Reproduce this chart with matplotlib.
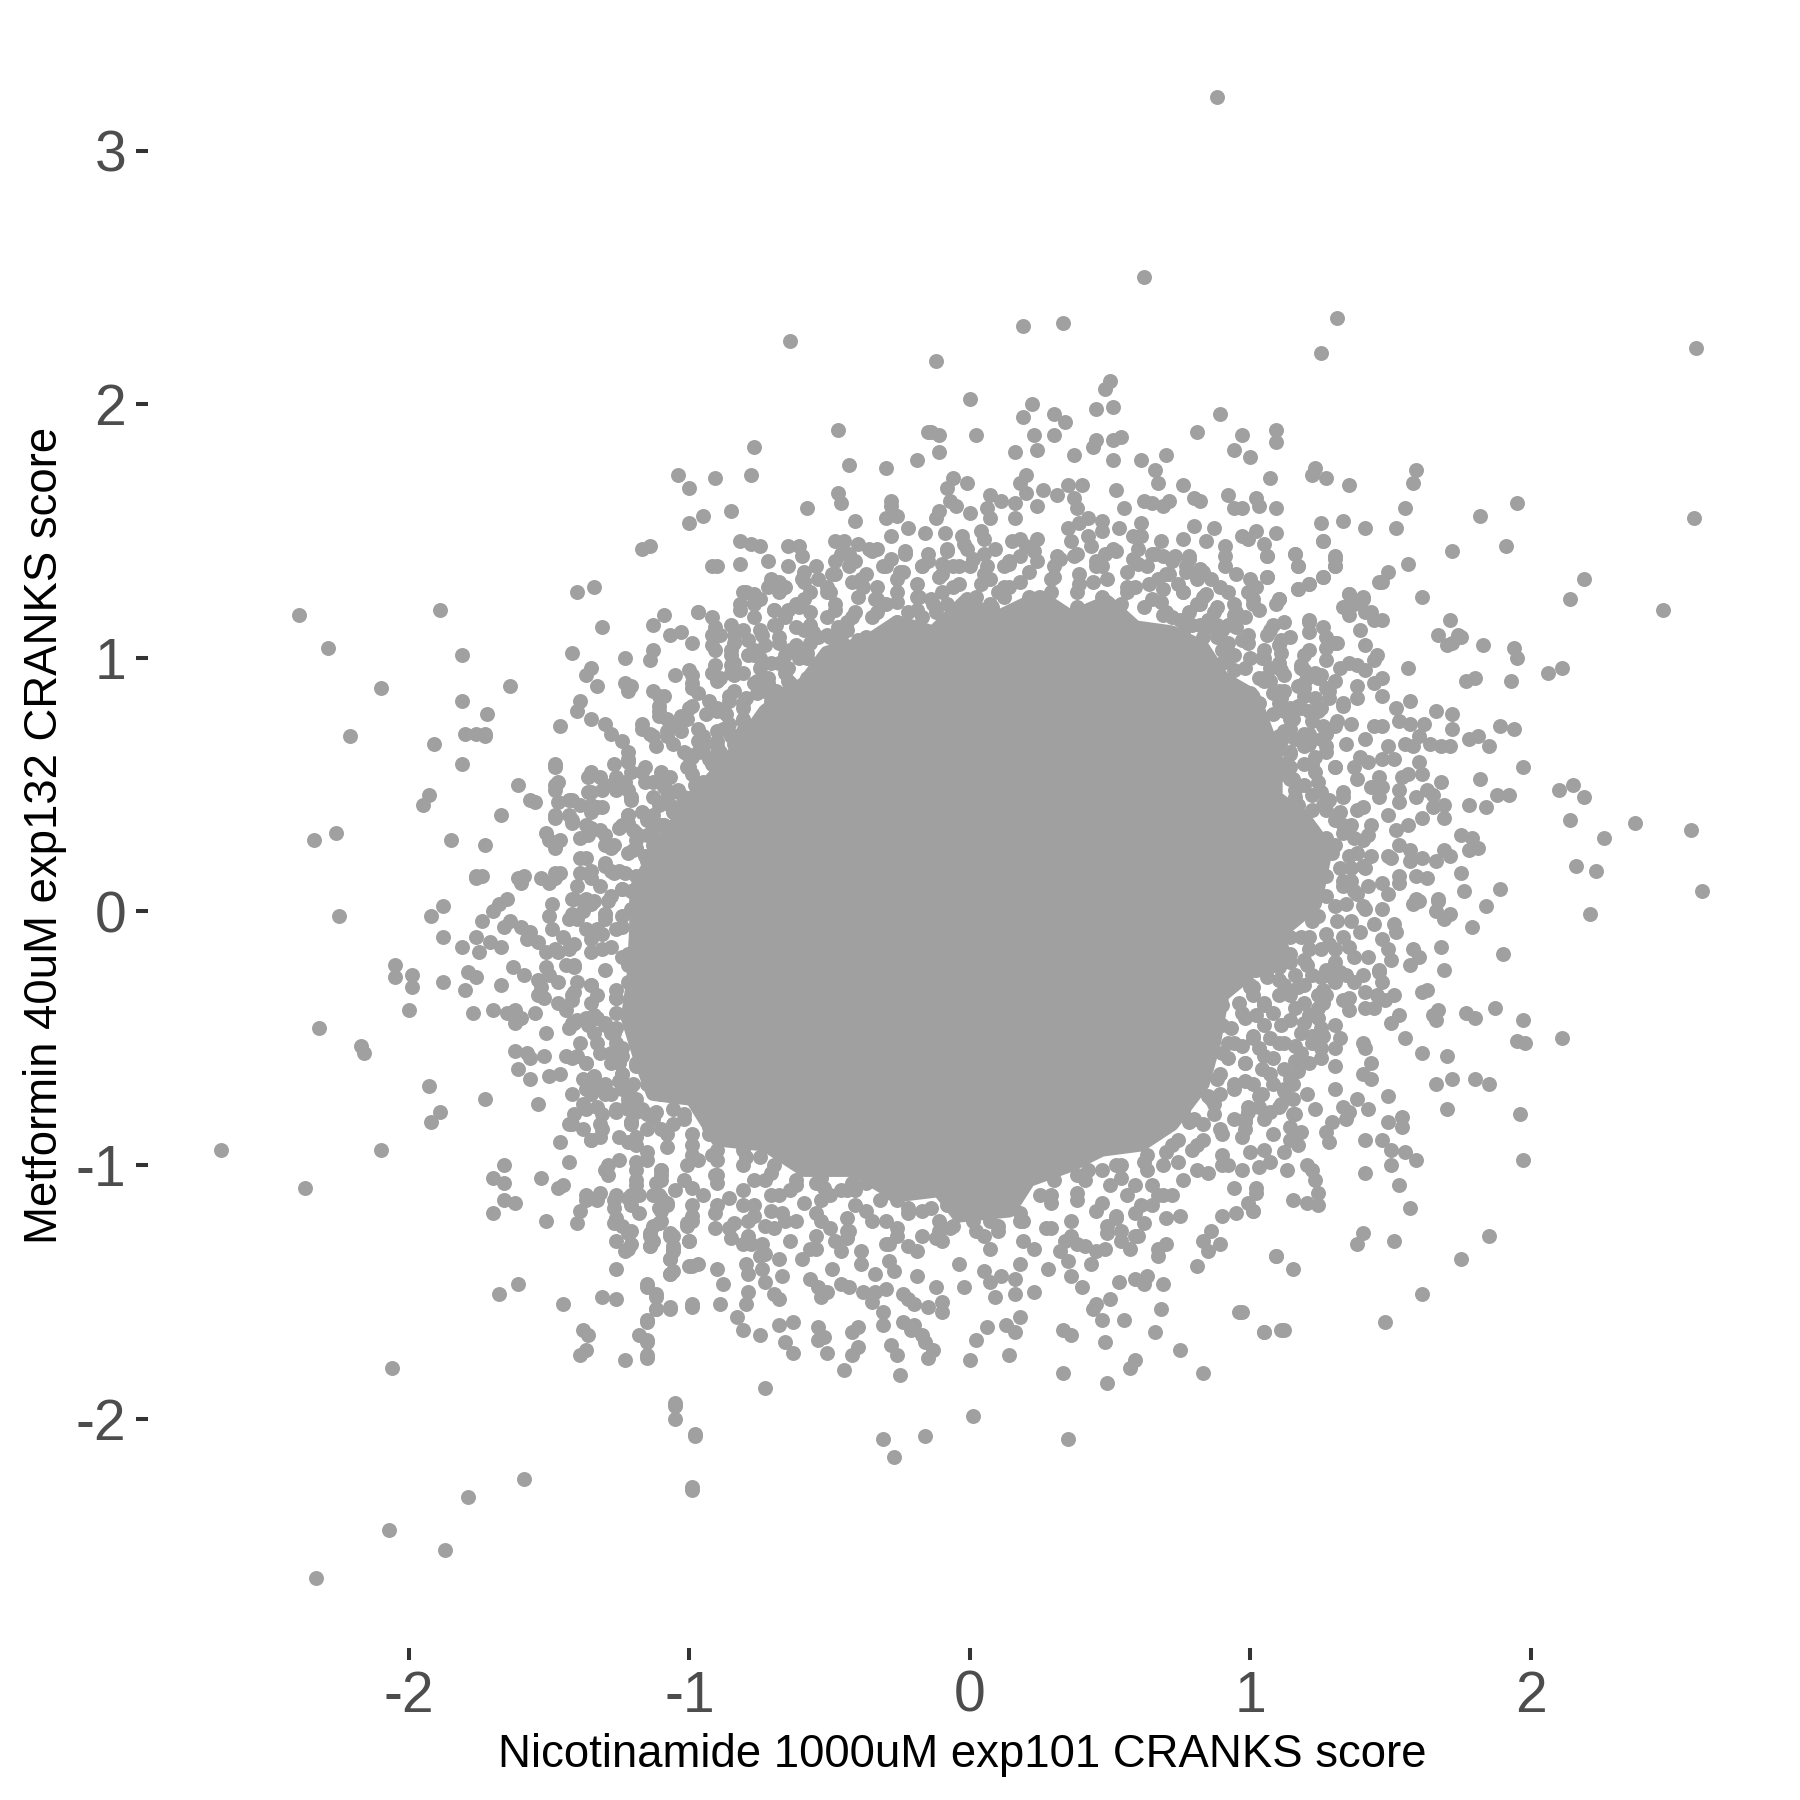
import matplotlib
matplotlib.use('Agg')
import matplotlib.pyplot as plt

plt.rcParams['font.family'] = ['Liberation Sans', 'DejaVu Sans']
plt.rcParams['axes.unicode_minus'] = False

# points, (x score, y score), one list per side of the cloud
left_upper = [(-2.39,1.17),(-2.29,1.04),(-1.89,1.19),(-1.81,1.01),(-2.10,.88),(-1.64,.89),(-1.81,.83),(-1.72,.78),(-2.21,.69),
    (-1.80,.70),(-1.76,.70),(-1.73,.70),(-1.73,.69),(-1.91,.66),(-1.81,.58),(-1.93,.46),(-1.95,.42),(-1.61,.50),(-1.57,.44),
    (-1.55,.43),(-1.67,.38),(-2.26,.31),(-2.34,.28),(-1.85,.28),(-1.73,.26),(-1.76,.14),(-1.76,.13),(-1.74,.14),(-1.59,.14),
    (-1.61,.13),(-1.60,.11),(-1.53,.13),(-1.50,.11),(-1.46,.15),(-1.48,.13),(-2.25,-.02),(-1.88,.02),(-1.92,-.02),(-1.65,.05),
    (-1.68,.03),(-1.70,.00),(-1.74,-.04),(-1.64,-.04),(-1.49,.03),(-1.50,-.02),(-1.42,.05),(-1.38,.04),(-1.34,.04),(-1.29,.04),
    (-1.38,.00),(-1.43,-.03),(-1.30,-.01),(-1.04,1.72),(-1.00,1.67),(-1.00,1.53),(-1.17,1.43),(-1.14,1.44),(-1.40,1.26),
    (-1.34,1.28),(-1.31,1.12),(-1.09,1.17),(-1.13,1.13),(-.97,1.18),(-1.07,1.09),(-1.03,1.10),(-.99,1.06),(-1.42,1.02),
    (-1.23,1.00),(-1.13,1.03),(-1.14,.99),(-1.35,.96),(-1.37,.93),(-1.33,.89),(-1.23,.90),(-1.21,.89),(-1.22,.87),(-1.05,.93),
    (-1.00,.95),(-.99,.90),(-1.13,.87),(-1.09,.85),(-1.39,.83),(-1.40,.79),(-1.35,.76),(-1.46,.73),(-1.30,.74),(-1.28,.70),
    (-1.17,.72),(-1.14,.70),(-1.11,.81),(-1.11,.77),(-1.08,.76),(-1.03,.77),(-1.00,.80),(-1.07,.73),(-1.03,.71),(-1.12,.65),
    (-1.08,.69),(-1.24,.67),(-1.22,.63),(-1.22,.59),(-1.02,.63),(-1.00,.57),(-1.48,.58),(-1.48,.57),(-1.27,.58),(-1.16,.57),
    (-1.21,.55),(-1.47,.51),(-1.48,.48),(-1.36,.53),(-1.32,.53),(-1.26,.52),(-1.23,.51),(-1.36,.47),(-1.31,.48),(-1.26,.48),
    (-1.21,.45),(-1.10,.55),(-1.07,.53),(-1.16,.51),(-1.09,.49),(-1.04,.48),(-1.47,.43),(-1.43,.44),(-1.39,.42),(-1.35,.42),
    (-1.31,.41),(-1.48,.37),(-1.43,.38),(-1.42,.35),(-1.22,.38),(-1.17,.39),(-1.51,.31),(-1.46,.28),(-1.48,.25),(-1.50,.28),
    (-1.37,.34),(-1.39,.29),(-1.36,.30),(-1.32,.32),(-1.25,.33),(-1.20,.32),(-1.30,.26),(-1.27,.26),(-1.39,.21),(-1.39,.15),
    (-1.35,.16),(-1.30,.18),(-1.27,.15),(-1.23,.15),(-1.13,.38),(-1.09,.34),(-1.13,.30),(-1.09,.25),(-1.20,.24),(-1.15,.21),
    (-1.12,.12),(-1.21,.08),(-1.15,.04),(-1.18,.12),(-1.07,.47),(-1.13,.45),(-.97,.67),(-.99,.61),(-1.04,.41),(-.97,.47)]

left_lower = [(-1.88,-.10),(-1.81,-.14),(-1.76,-.10),(-1.75,-.16),(-1.71,-.12),(-1.67,-.14),(-1.66,-.06),(-1.60,-.06),(-1.57,-.08),
    (-1.58,-.11),(-1.54,-.12),(-1.49,-.07),(-1.51,-.16),(-1.47,-.16),(-1.43,-.15),(-2.05,-.21),(-2.05,-.26),(-1.99,-.25),(-1.99,-.30),
    (-1.88,-.28),(-1.80,-.31),(-1.79,-.24),(-1.76,-.26),(-1.67,-.29),(-1.63,-.22),(-1.59,-.25),(-1.51,-.22),(-1.50,-.25),(-1.54,-.27),
    (-1.53,-.30),(-1.54,-.33),(-1.52,-.34),(-1.41,-.22),(-2.00,-.39),(-1.77,-.40),(-1.70,-.39),(-1.65,-.40),(-1.62,-.39),(-1.60,-.42),
    (-1.62,-.44),(-1.55,-.40),(-1.44,-.39),(-1.41,-.32),(-1.51,-.48),(-2.32,-.46),(-2.17,-.53),(-2.16,-.56),(-1.43,-.46),(-1.40,-.43),
    (-1.34,-.41),(-1.34,-.48),(-1.36,-.45),(-1.30,-.45),(-1.27,-.48),(-1.62,-.55),(-1.58,-.56),(-1.57,-.58),(-1.52,-.57),(-1.61,-.62),
    (-1.57,-.66),(-1.50,-.65),(-1.46,-.64),(-1.44,-.57),(-1.39,-.52),(-1.40,-.57),(-1.37,-.60),(-1.32,-.56),(-1.28,-.60),(-1.25,-.60),
    (-1.19,-.61),(-1.24,-.54),(-1.93,-.69),(-1.73,-.74),(-1.89,-.79),(-1.92,-.83),(-1.54,-.76),(-1.34,-.65),(-1.37,-.70),(-1.30,-.68),
    (-1.25,-.67),(-1.21,-.69),(-1.38,-.76),(-1.33,-.77),(-1.28,-.72),(-1.26,-.79),(-1.41,-.80),(-1.43,-.84),(-1.38,-.86),(-1.35,-.90),
    (-1.32,-.84),(-1.32,-.89),(-1.22,-.78),(-1.19,-.79),(-1.21,-.83),(-1.25,-.89),(-1.22,-.91),(-1.19,-.89),(-1.15,-.86),(-1.46,-.91),
    (-2.67,-.94),(-2.10,-.94),(-2.37,-1.09),(-1.66,-1.00),(-1.70,-1.05),(-1.66,-1.07),(-1.66,-1.14),(-1.62,-1.15),(-1.70,-1.19),
    (-1.53,-1.05),(-1.51,-1.22),(-1.43,-.99),(-1.47,-1.09),(-1.45,-1.08),(-1.40,-1.23),(-1.39,-1.18),(-1.37,-1.12),(-1.33,-1.14),
    (-1.32,-1.11),(-1.29,-1.00),(-1.29,-1.04),(-1.25,-.98),(-1.19,-.99),(-1.15,-.98),(-1.19,-1.06),(-1.27,-1.14),(-1.27,-1.17),
    (-1.22,-1.13),(-1.18,-1.12),(-1.13,-1.12),(-1.18,-1.19),(-1.27,-1.23),(-1.24,-1.24),(-1.21,-1.26),(-1.26,-1.30),(-1.21,-1.31),
    (-1.23,-1.34),(-1.14,-1.28),(-1.14,-1.32),(-1.10,-1.02),(-1.12,-1.07),(-1.08,-1.15),(-1.11,-1.17),(-1.10,-1.22),(-1.11,-1.23),
    (-1.07,-1.28),(-1.06,-1.33),(-1.07,-1.37),(-1.06,-1.42),(-1.07,-1.43),(-1.26,-1.41),(-1.01,-1.23),(-1.00,-1.30),(-1.00,-1.40),
    (-1.15,-1.48),(-1.12,-1.52),(-1.12,-1.57),(-1.07,-1.57),(-.99,-1.56),(-1.15,-1.62),(-1.18,-1.67),(-1.15,-1.70),(-1.15,-1.76),
    (-1.23,-1.77),(-1.31,-1.52),(-1.26,-1.53),(-1.45,-1.55),(-1.61,-1.47),(-1.68,-1.51),(-1.38,-1.65),(-1.36,-1.67),(-1.37,-1.73),
    (-1.39,-1.75),(-2.06,-1.80),(-1.05,-1.95),(-1.05,-2.00),(-.98,-2.07),(-.99,-2.28),(-1.59,-2.24),(-1.79,-2.31),(-2.07,-2.44),
    (-1.87,-2.52),(-2.33,-2.63),(-1.19,-.42),(-1.26,-.40),(-1.22,-.21),(-1.26,-.07),(-1.31,-.15),(-1.35,-.29),(-1.21,.01),(-1.24,.09),
    (-1.30,-.01),(-1.19,.25),(-1.13,.33),(-1.22,.35),(-1.08,.45),(-.99,.45),(-.95,.51),(-1.10,.53),(-.97,.63),(-.90,.65),(-.84,.69),
    (-1.33,-.33),(-1.37,-.42),(-1.30,-.44),(-1.28,-.56),(-1.33,-.70),(-1.24,-.70),(-1.30,-.72),(-1.17,-.78),(-1.21,-.84),(-1.26,-.78),
    (-1.42,-.35),(-1.41,-.44),(-1.44,-.21),(-1.33,-.07),(-1.37,.05),(-1.35,-.11)]

top = [(.88,3.21),(.62,2.50),(.33,2.32),(.19,2.31),(-.64,2.25),(1.31,2.34),(1.25,2.20),(-.12,2.17),(.50,2.09),(.48,2.06),(0,2.02),
    (.22,2.00),(.19,1.95),(.30,1.96),(.34,1.93),(.45,1.98),(.51,1.99),(.89,1.96),(-.47,1.90),(-.15,1.89),(-.14,1.89),(-.11,1.88),
    (.02,1.88),(.23,1.88),(.30,1.88),(.45,1.86),(.44,1.83),(.51,1.86),(.54,1.87),(.81,1.89),(.97,1.88),(1.09,1.90),(1.09,1.85),
    (-.77,1.83),(-.11,1.81),(.16,1.81),(.24,1.82),(.37,1.80),(.51,1.78),(.61,1.78),(.70,1.80),(.94,1.82),(1.00,1.79),(-.19,1.78),
    (-.43,1.76),(-.30,1.75),(-.78,1.72),(-.91,1.71),(-.06,1.71),(-.01,1.69),(.20,1.72),(.18,1.69),(.66,1.74),(.67,1.69),(.76,1.68),
    (1.07,1.71),(1.23,1.75),(1.22,1.72),(1.27,1.71),(1.35,1.68),(-.47,1.65),(-.46,1.61),(-.28,1.62),(-.28,1.60),(-.08,1.67),(-.07,1.62),
    (-.05,1.60),(.07,1.64),(.11,1.62),(.20,1.65),(.26,1.66),(.31,1.64),(.35,1.68),(.40,1.68),(.37,1.63),(.52,1.66),(.62,1.62),(.65,1.61),
    (.71,1.62),(.69,1.60),(.80,1.63),(.82,1.62),(.92,1.64),(1.02,1.63),(1.03,1.60),(-.85,1.58),(-.58,1.59),(-.95,1.56),(-.41,1.54),
    (-.30,1.55),(-.26,1.56),(-.22,1.51),(-.11,1.58),(-.12,1.55),(0,1.57),(.06,1.59),(.07,1.55),(.16,1.55),(.16,1.61),(.24,1.60),(.38,1.59),
    (.55,1.59),(.94,1.59),(.97,1.59),(1.09,1.59),(.42,1.55),(.47,1.54),(.53,1.51),(.61,1.53),(.80,1.52),(.87,1.51),(1.02,1.50),(1.25,1.53),
    (1.33,1.54),(1.41,1.51),(.35,1.51),(.39,1.53),(-.82,1.46),(-.78,1.45),(-.75,1.44),(-.65,1.44),(-.61,1.44),(-.48,1.46),(-.45,1.46),
    (-.40,1.45),(-.28,1.48),(-.16,1.49),(-.09,1.49),(-.03,1.48),(.04,1.50),(.05,1.47),(.15,1.46),(.18,1.47),(.24,1.47),(.36,1.46),(.42,1.48),
    (.47,1.50),(.58,1.48),(.61,1.48),(.76,1.47),(.84,1.46),(.97,1.48),(.99,1.47),(1.09,1.49),(1.26,1.46),(1.05,1.45),(-.92,1.36),(-.90,1.36),
    (-.82,1.37),(-.65,1.36),(-.48,1.38),(-.43,1.41),(-.36,1.43),(-.33,1.43),(-.23,1.42),(-.15,1.41),(-.08,1.43),(-.01,1.43),(-.10,1.37),
    (.09,1.43),(.18,1.40),(.31,1.40),(.37,1.40),(.51,1.43),(.48,1.41),(.60,1.43),(.66,1.41),(.69,1.40),(.73,1.40),(.78,1.39),(.91,1.44),
    (.91,1.40),(.91,1.36),(1.06,1.40),(1.16,1.41),(1.17,1.36),(1.30,1.39),(1.30,1.36),(-.72,1.28),(-.68,1.30),(-.81,1.26),(-.60,1.31),
    (-.54,1.31),(-.49,1.33),(-.42,1.30),(-.38,1.28),(-.57,1.26),(-.51,1.26),(-.40,1.24),(-.31,1.36),(-.25,1.34),(-.17,1.36),(-.06,1.36),
    (0,1.36),(.06,1.36),(.14,1.37),(.24,1.38),(.45,1.36),(.60,1.37),(.71,1.33),(.77,1.34),(.82,1.35),(.86,1.31),(.95,1.33),(1.00,1.31),
    (1.06,1.32),(1.26,1.32),(1.46,1.30),(1.21,1.29),(1.17,1.27),(.64,1.29),(.69,1.27),(.76,1.26),(.99,1.26),(1.02,1.28),(.84,1.25),
    (-.82,1.21),(-.77,1.25),(-.77,1.21),(-.97,1.18),(-.92,1.16),(-.70,1.19),(-.65,1.19),(-.61,1.20),(-.48,1.19),(-.34,1.23),(-.19,1.19),
    (-.14,1.23),(-.08,1.21),(.02,1.24),(.12,1.28),(.08,1.20),(.38,1.20),(.88,1.20),(.82,1.21),(1.01,1.21),(1.10,1.23),(.95,1.18),(1.35,1.25),
    (1.40,1.24),(1.34,1.20),(1.43,1.18),(1.21,1.15),
    # just above the solid core
    (-.85,1.13),(-.81,1.11),(-.79,1.07),(-.92,1.09),(-.89,1.09),(-.92,1.05),(-.74,1.09),(-.73,1.05),(-.85,1.03),(-.85,1.01),(-.79,1.01),
    (-.75,1.00),(-.71,.98),(-.66,1.01),(-.65,.96),(-.69,1.13),(-.62,1.12),(-.62,1.05),(-.58,1.02),(-.54,1.08),(-.51,1.09),(-.46,1.07),
    (-.40,1.07),(-.46,1.03),(-.51,1.00),(-.92,.94),(-.89,.92),(-.85,.97),(-.85,.94),(-.81,.94),(-.76,.91),(-.72,.92),(-.65,.91),(-.58,.92),
    (-.52,.92),(-.45,.92),(-.39,.96),(-.33,1.03),(-.27,1.07),(-.86,.85),(-.93,.83),(-.90,.80),(-.81,.82),(-.76,.86),(-.69,.87),(-.66,.86),
    (-.94,.78),(-.87,.78),(-.81,.76),(-.69,.75),(-.59,.78),(-.62,.82),(-.54,.80),(-.90,.71),(-.85,.69),(-.80,.68),(-.95,.67),(-.89,.63),
    (-.95,.63),(-.83,.63),(-.77,.65),(-.91,.58),(-.82,.57),(.69,1.17),(.75,1.15),(.82,1.13),(.88,1.13),(.94,1.17),(.74,1.08),(.81,1.04),
    (.88,1.08),(.95,1.12),(.97,1.07),(.92,1.00),(1.00,1.00),(1.05,1.00),(.86,.97),(.94,.95)]

right = [(2.59,2.22),(2.58,1.55),(1.59,1.74),(1.58,1.69),(1.55,1.59),(1.95,1.61),(1.82,1.56),(1.52,1.51),(1.26,1.46),(1.16,1.41),(1.06,1.40),
    (1.17,1.36),(1.30,1.40),(1.30,1.36),(1.72,1.42),(1.91,1.44),(1.56,1.37),(1.49,1.34),(1.47,1.30),(1.26,1.32),(1.21,1.29),(1.17,1.27),
    (1.06,1.32),(1.10,1.23),(1.61,1.24),(2.19,1.31),(2.14,1.23),(2.47,1.19),(1.35,1.25),(1.40,1.23),(1.33,1.20),(1.37,1.21),(1.35,1.17),
    (1.41,1.18),(1.47,1.15),(1.44,1.15),(1.71,1.15),(1.21,1.14),(1.26,1.12),(1.39,1.11),(1.08,1.13),(1.06,1.09),(1.67,1.09),(1.74,1.09),
    (1.70,1.05),(1.72,1.06),(1.75,1.08),(1.83,1.05),(1.94,1.04),(1.95,1.00),(1.11,1.07),(1.31,1.06),(1.27,1.04),(1.41,1.05),(1.11,1.02),
    (1.04,1.00),(1.27,.99),(1.45,1.01),(1.32,.96),(1.35,.98),(1.38,.97),(1.41,.95),(1.44,.99),(1.56,.96),(2.06,.94),(2.11,.96),(1.77,.91),
    (1.80,.92),(1.93,.91),(1.11,.95),(1.18,.97),(1.23,.94),(1.20,.92),(1.47,.92),(1.44,.90),(1.38,.89),(1.38,.84),(1.47,.85),(1.57,.83),
    (1.17,.89),(1.52,.80),(1.66,.79),(1.72,.78),(1.53,.75),(1.57,.74),(1.62,.74),(1.72,.72),(1.89,.73),(1.94,.72),(1.33,.81),(1.36,.74),
    (1.44,.73),(1.47,.73),(1.41,.68),(1.55,.66),(1.58,.65),(1.60,.69),(1.64,.66),(1.68,.65),(1.71,.65),(1.78,.68),(1.81,.69),(1.85,.65),
    (1.49,.65),(1.47,.60),(1.51,.60),(1.60,.59),(1.42,.59),(1.39,.61),(1.37,.57),(1.30,.57),(1.97,.57),(1.38,.52),(1.46,.53),(1.54,.53),
    (1.56,.54),(1.61,.54),(1.68,.51),(1.82,.52),(1.43,.49),(1.47,.49),(1.53,.48),(1.33,.47),(1.33,.45),(1.59,.45),(1.63,.48),(1.65,.46),
    (1.53,.43),(2.10,.48),(2.15,.50),(2.19,.45),(1.88,.46),(1.92,.46),(1.46,.45),(1.40,.41),(1.65,.41),(1.69,.42),(1.78,.42),(1.84,.41),
    (1.61,.37),(1.69,.37),(2.14,.36),(2.37,.35),(2.57,.32),(2.26,.29),(1.49,.38),(1.43,.34),(1.52,.32),(1.56,.34),(1.40,.28),(1.75,.30),
    (1.79,.29),(1.81,.25),(1.78,.24),(1.53,.26),(1.57,.24),(1.61,.21),(1.69,.24),(1.71,.22),(1.66,.20),(2.16,.18),(2.23,.16),(1.43,.22),
    (1.49,.22),(1.50,.21),(1.38,.23),(1.41,.17),(1.36,.17),(1.57,.20),(1.53,.14),(1.59,.14),(1.63,.13),(1.75,.15),(1.47,.11),(1.53,.11),
    (1.76,.08),(1.89,.09),(2.61,.08),(1.49,.07),(1.59,.05),(1.67,.05),(1.37,.08),
    # dense edge of the core on the right
    (1.03,.92),(1.12,.87),(1.07,.91),(1.18,.96),(1.24,.92),(1.28,.87),(1.19,.88),(1.33,.82),(1.00,.86),(1.12,.79),(1.18,.80),(1.24,.79),
    (1.26,.73),(1.31,.75),(1.12,.71),(1.21,.70),(1.27,.65),(1.22,.58),(1.19,.65),(1.30,.57),(1.14,.63),(1.03,.82),(1.11,.84),(.99,.76),
    (1.08,.78),(1.17,.81),(1.23,.84),(1.28,.84),(1.22,.75),(1.30,.73),(1.15,.76),(1.02,.69),(1.11,.67),(1.21,.67),(1.27,.63),(1.34,.66),
    (1.04,.60),(1.19,.58),(1.12,.54),(1.24,.51),(1.16,.48),(1.08,.43),(1.26,.42),(1.32,.39),(1.16,.37),(1.22,.32),(1.33,.31),(1.37,.29),
    (1.12,.28),(1.27,.29),(1.29,.23),(1.20,.22),(1.32,.17),(1.17,.14),(1.27,.14),(1.33,.10),(1.38,.07),(1.22,.08),(1.13,.08)]

right_lower = [(1.58,.03),(1.60,.04),(1.67,.04),(1.84,.02),(2.21,-.01),(1.47,.01),(1.66,0),(1.71,-.01),(1.69,-.03),(1.41,.01),(1.79,-.06),
    (1.51,-.05),(1.52,-.08),(1.44,-.05),(1.39,-.08),(1.36,-.04),(1.31,-.04),(1.47,-.11),(1.68,-.14),(1.58,-.15),(1.60,-.18),(1.90,-.17),
    (1.49,-.15),(1.50,-.19),(1.57,-.21),(1.69,-.23),(1.42,-.18),(1.37,-.18),(1.27,-.09),(1.30,-.15),(1.30,-.20),(1.25,-.15),(1.14,-.10),
    (1.21,-.10),(1.21,-.15),(1.29,-.26),(1.34,-.25),(1.37,-.28),(1.40,-.25),(1.46,-.23),(1.47,-.28),(1.46,-.24),(1.61,-.32),(1.63,-.31),
    (1.51,-.33),(1.48,-.35),(1.41,-.32),(1.45,-.33),(1.26,-.31),(1.24,-.33),(1.67,-.39),(1.65,-.41),(1.66,-.43),(1.77,-.40),(1.80,-.42),
    (1.87,-.38),(1.97,-.43),(1.41,-.38),(1.44,-.38),(1.35,-.34),(1.33,-.35),(1.35,-.39),(1.26,-.36),(1.53,-.41),(1.50,-.44),(1.30,-.45),
    (1.55,-.50),(1.95,-.51),(1.98,-.52),(2.11,-.50),(1.26,-.49),(1.32,-.50),(1.22,-.49),(1.40,-.52),(1.41,-.54),(1.61,-.56),(1.70,-.57),
    (1.43,-.60),(1.30,-.61),(1.25,-.54),(1.25,-.58),(1.40,-.64),(1.43,-.66),(1.72,-.66),(1.66,-.68),(1.80,-.66),(1.85,-.68),(1.16,-.59),
    (1.17,-.63),(1.49,-.73),(1.38,-.74),(1.42,-.78),(1.33,-.77),(1.23,-.78),(1.70,-.78),(1.96,-.80),(1.35,-.79),(1.15,-.80),(1.15,-.74),
    (1.54,-.81),(1.54,-.85),(1.49,-.83),(1.34,-.82),(1.29,-.83),(1.27,-.87),(1.18,-.87),(1.14,-.90),(1.17,-.92),(1.28,-.91),(1.41,-.90),
    (1.47,-.90),(1.50,-.94),(1.12,-.95),(1.55,-.95),(1.59,-.98),(1.97,-.98),(1.07,-.99),(1.03,-1.01),(.97,-1.02),(1.13,-1.02),(1.20,-1.00),
    (1.22,-1.02),(1.23,-1.06),(1.41,-1.03),(1.50,-1.00),(1.53,-1.08),(1.02,-1.09),(1.02,-1.11),(1.24,-1.11),(1.15,-1.14),(1.20,-1.15),
    (1.24,-1.16),(1.57,-1.17),(.99,-1.15),(1.01,-1.18),(1.40,-1.27),(1.38,-1.31),(1.51,-1.30),(1.85,-1.28),(1.75,-1.37),(1.09,-1.36),
    (1.15,-1.41),(1.61,-1.51),(1.48,-1.62),(1.12,-1.65),(1.05,-1.66),(.97,-1.58),
    # dense edge of the core, lower right
    (1.03,.09),(1.20,.04),(1.27,.06),(1.34,.03),(1.11,0),(1.24,-.02),(1.03,-.06),(1.09,-.08),(1.00,-.14),(1.11,-.14),(1.08,-.21),(1.14,-.20),
    (1.20,-.21),(1.02,-.23),(1.00,-.29),(1.12,-.29),(1.19,-.29),(1.14,-.33),(1.01,-.33),(1.05,-.37),(.97,-.40),(1.02,-.41),(1.08,-.40),
    (1.11,-.45),(1.21,-.41),(1.24,-.42),(1.19,-.44),(1.18,-.48),(1.12,-.52),(1.16,-.53),(1.07,-.50),(1.01,-.50),(.97,-.53),(1.03,-.54),
    (1.08,-.58),(1.04,-.62),(1.12,-.62),(1.01,-.68),(1.04,-.72),(1.12,-.70),(1.15,-.68),(.99,-.77),(1.03,-.77),(1.07,-.79),(1.11,-.76),
    (1.05,-.82),(.98,-.86),(.97,-.89),(.92,-.52),(.98,-.60),(.89,-.72),(.83,-.84),(.90,-.88),(.74,-.90),(.63,-.96),(.69,-1.00),(.59,-1.08),
    (.50,-1.08),(.41,-1.06),(.38,-1.14),(.29,-1.12),(.54,-1.00),(.79,-.94),(.87,-.80),(.94,-.68),(.81,-1.02),(.83,-.90),(.67,-1.12),
    (.72,-1.12),(.61,-1.16),(.52,-1.20),(.94,-.82),(.98,-.82),(.90,-1.00)]

bottom = [(-.99,-2.27),(-1.05,-1.94),(-.98,-2.06),(-.73,-1.88),(-.31,-2.08),(-.16,-2.07),(-.27,-2.15),(.01,-1.99),(.35,-2.08),(-1.15,-1.75),
    (-1.15,-1.69),(-1.15,-1.61),(-1.12,-1.57),(-1.07,-1.56),(-.99,-1.55),(-.89,-1.55),(-1.12,-1.51),(-1.15,-1.47),(-1.07,-1.43),(-.99,-1.40),
    (-.97,-1.39),(-.90,-1.41),(-.88,-1.47),(-.79,-1.50),(-.80,-1.55),(-.83,-1.60),(-.81,-1.65),(-.75,-1.67),(-.68,-1.63),(-.63,-1.62),
    (-.66,-1.70),(-.63,-1.74),(-.70,-1.51),(-.68,-1.53),(-.54,-1.64),(-.52,-1.68),(-.54,-1.69),(-.51,-1.74),(-.45,-1.81),(-.40,-1.64),
    (-.42,-1.66),(-.40,-1.72),(-.42,-1.75),(-.31,-1.58),(-.31,-1.63),(-.28,-1.71),(-.26,-1.75),(-.25,-1.83),(-.24,-1.62),(-.20,-1.63),
    (-.21,-1.65),(-.17,-1.67),(-.16,-1.70),(-.13,-1.73),(-.15,-1.76),(0,-1.77),(.02,-1.69),(.06,-1.64),(.13,-1.63),(.16,-1.66),(.18,-1.60),
    (.14,-1.75),(.33,-1.65),(.36,-1.67),(.33,-1.82),(.48,-1.70),(.49,-1.86),(.57,-1.80),(.59,-1.77),(.55,-1.61),(.47,-1.61),(.66,-1.66),
    (.75,-1.73),(.83,-1.82),(.68,-1.57),(.96,-1.58),(1.05,-1.66),(1.11,-1.65),(.45,-1.55),(.44,-1.57),(.50,-1.53),(-.10,-1.54),(-.10,-1.58),
    (-.15,-1.56),(-.20,-1.55),(-.24,-1.51),(-.22,-1.53),(-.35,-1.54),(-.30,-1.49),(-.34,-1.50),(-.38,-1.50),(-.43,-1.48),(-.46,-1.47),
    (-.53,-1.52),(-.51,-1.50),(-.54,-1.48),(-.57,-1.45),(.09,-1.52),(.16,-1.51),(.23,-1.50),(.40,-1.48),(.53,-1.46),(.62,-1.47),(.59,-1.45),
    (.63,-1.44),(.69,-1.47),(.81,-1.40),(.85,-1.34),(.89,-1.31),(.86,-1.26),(.90,-1.20),(.95,-1.19),(1.01,-1.18),(.67,-1.36),(.70,-1.31),
    (.62,-1.23),(.75,-1.20),(1.09,-1.36),(.57,-1.33),(.43,-1.39),(.36,-1.44),(.28,-1.41),(-.02,-1.48),(-.12,-1.48),(-.19,-1.44),(-.27,-1.42),
    (-.34,-1.43),(-.49,-1.41),(-.67,-1.44),(-.73,-1.46),(-.79,-1.43),(-.80,-1.39),(-.74,-1.41),(-.68,-1.37),(-.60,-1.37),(-1.14,-1.32),
    (-1.14,-1.27),(-1.07,-1.37),(-1.06,-1.32),(-1.07,-1.27),(-1.00,-1.30),(-1.01,-1.24),(-1.11,-1.23),(-.91,-1.25),(-.84,-1.23),(-.85,-1.29),
    (-.78,-1.31),(-.74,-1.31),(-.75,-1.36),(-.70,-1.25),(-.67,-1.19),(-.43,-1.26),(-.55,-1.33),(-.46,-1.34),(-.39,-1.39),(-.29,-1.38),
    (-.29,-1.31),(-.22,-1.32),(-.12,-1.29),(-.04,-1.39),(.05,-1.42),(.16,-1.45),(.11,-1.44),(.07,-1.46),(.18,-1.39),(.23,-1.33),(.27,-1.25),
    (.34,-1.30),(.35,-1.38),(.41,-1.32),(.49,-1.27),(.54,-1.26),(.48,-1.33),(.60,-1.28),(.10,-1.12),(-.08,-1.16),(-.26,-1.14),(-.44,-1.10),
    (-.62,-1.06),(-.77,-1.06),(-.90,-.94),(-.99,-.88),(-1.06,-.84),(-1.13,-.82),(-1.19,-.74),(-1.15,-.64),(-1.24,-.64),(-.90,-1.04),(-.97,-.98),
    (-1.02,-1.06),(-1.10,-1.04),(-1.19,-1.02),(-.95,-1.12),(-.81,-1.16),(-.71,-1.12),(-.53,-1.14),(-.35,-1.22),(-.41,-1.10),(-.17,-1.18),
    (.01,-1.22),(.19,-1.22),(-.53,-1.22),(-.66,-1.22),(-.77,-1.20),(-1.08,-1.16),(-1.11,-1.12),(-1.21,-1.12),(-.99,-1.20),(-.90,-1.16),
    (-.44,-1.26),(-.26,-1.28),(-.11,-1.26),(.10,-1.24)]

# the crowded ring around the core, read row by row from the zoomed centre
ring_top = [(-.46,1.41),(-.41,1.38),(-.35,1.42),(-.28,1.39),(-.23,1.41),(-.15,1.38),(-.08,1.42),(.01,1.39),(.05,1.41),(.14,1.38),(.23,1.42),(.32,1.39),
    (.38,1.41),(.45,1.38),(.52,1.42),(.58,1.39),(.65,1.41),(.72,1.38),(.78,1.40),
    (-.59,1.34),(-.55,1.36),(-.48,1.33),(-.43,1.36),(-.37,1.33),(-.30,1.36),(-.24,1.34),(-.17,1.36),(-.10,1.33),(-.04,1.36),(.05,1.33),(.12,1.36),(.21,1.34),
    (.30,1.36),(.39,1.33),(.47,1.36),(.56,1.34),(.63,1.36),(.70,1.33),(.77,1.36),(.83,1.34),
    (-.71,1.31),(-.66,1.28),(-.59,1.30),(-.51,1.28),(-.39,1.31),(-.33,1.28),(-.26,1.31),(-.19,1.29),(-.11,1.32),(-.04,1.29),(.07,1.31),(.14,1.28),(.29,1.31),
    (.39,1.29),(.49,1.31),(.59,1.28),(.67,1.31),(.74,1.29),(.81,1.31),(.89,1.28),
    (-.80,1.26),(-.75,1.23),(-.68,1.26),(-.59,1.23),(-.50,1.26),(-.33,1.23),(-.26,1.26),(-.19,1.24),(-.10,1.26),(-.01,1.23),(.10,1.26),(.21,1.24),(.29,1.26),
    (.47,1.24),(.56,1.26),(.65,1.23),(.76,1.26),(.83,1.24),(.92,1.26),(1.01,1.23),
    (-.82,1.19),(-.77,1.22),(-.70,1.19),(-.62,1.21),(-.57,1.18),(-.48,1.21),(-.41,1.18),(-.30,1.21),(-.22,1.18),(-.13,1.21),(-.06,1.19),(.07,1.21),(.18,1.18),
    (.30,1.20),(.45,1.18),(.54,1.21),(.70,1.18),(.81,1.21),(.87,1.18),(.94,1.21),(1.03,1.19),(1.09,1.21),
    (-.77,1.16),(-.70,1.13),(-.66,1.16),(-.57,1.13),(-.51,1.16),(-.44,1.14),(-.35,1.16),(-.26,1.14),(-.17,1.16),(.72,1.16),(.79,1.13),(.85,1.15),(.92,1.13),
    (.98,1.16),(1.12,1.14),
    (-.91,1.12),(-.84,1.09),(-.75,1.11),(-.68,1.08),(-.59,1.11),(-.50,1.08),(-.44,1.11),(-.37,1.08),(.76,1.10),(.83,1.08),(.90,1.11),(.99,1.09),(1.07,1.11),
    (1.14,1.08),(1.21,1.10),(1.27,1.08)]

ring_upper_left = [(-.91,1.03),(-.84,1.06),(-.77,1.03),(-.68,1.06),(-.64,1.03),(-.57,1.06),(.90,1.03),(.99,1.06),(1.05,1.03),(1.10,1.05),(1.21,1.03),(1.30,1.06),
    (-.84,.98),(-.77,1.01),(-.68,.98),(-.61,1.00),(.90,.98),(.94,1.01),(1.10,.98),(1.19,1.01),
    (-.99,.93),(-.91,.97),(-.84,.93),(-.75,.96),(-.66,.94),(-.55,.96),(1.07,.96),(1.12,.93),(1.19,.95),(1.25,.93),
    (-.99,.88),(-.90,.91),(-.84,.87),(-.77,.90),(-.73,.87),(-.64,.90),(1.05,.91),(1.10,.87),(1.19,.90),(1.27,.88),(1.30,.91),
    (-1.11,.85),(-.99,.81),(-.97,.86),(-.86,.83),(-.81,.80),(-.71,.83),(-.64,.79),(1.10,.82),(1.19,.85),(1.25,.80),
    (-1.11,.79),(-1.01,.76),(-.90,.79),(-.81,.75),(-.73,.78),(1.14,.76),(1.21,.79),
    (-1.17,.74),(-1.08,.71),(-1.04,.74),(-.97,.72),(-.86,.74),(-.81,.71),(-.75,.74),(1.14,.72),(1.19,.70),(1.25,.68),
    (-1.13,.69),(-1.06,.66),(-.95,.69),(-.90,.67),(-.84,.66),(1.10,.69),(1.21,.66),(1.27,.70),
    (-1.01,.62),(-.95,.65),(-.90,.62),(-.86,.60),(1.10,.64),(1.14,.62),(1.23,.61),
    (-1.22,.60),(-1.01,.57),(-.93,.60),(-.86,.58),(1.14,.57),(1.23,.55),
    (-1.35,.55),(-1.26,.53),(-1.17,.55),(-1.10,.52),(-.99,.54),(-.91,.52),(1.14,.52),(1.19,.50),
    (-1.48,.50),(-1.35,.47),(-1.30,.50),(-1.22,.48),(-1.13,.51),(-1.04,.47),(-.95,.49),(1.16,.45),(1.25,.47)]

ring_left = [(-1.42,.44),(-1.33,.41),(-1.21,.44),(-1.11,.42),(-1.02,.45),(-1.48,.38),(-1.42,.36),(-1.35,.39),(-1.22,.38),(-1.15,.36),(-1.06,.39),
    (-1.35,.33),(-1.30,.30),(-1.24,.34),(-1.19,.31),(-1.10,.34),(-1.48,.27),(-1.28,.25),(-1.19,.28),(-1.13,.26),(-1.37,.21),(-1.30,.19),(-1.22,.23),(-1.15,.20),
    (-1.48,.15),(-1.35,.13),(-1.28,.16),(-1.19,.14),(-1.24,.09),(-1.15,.07),(-1.41,.05),(-1.35,.03),(-1.28,.06),(-1.42,-.01),(-1.30,-.03),(-1.21,.00),
    (-1.37,-.07),(-1.31,-.09),(-1.24,-.06),(-1.48,-.15),(-1.41,-.13),(-1.35,-.16),(-1.28,-.14),(-1.22,-.17),(-1.41,-.21),(-1.30,-.23),(-1.19,-.20),
    (-1.35,-.29),(-1.26,-.31),(-1.42,-.33),(-1.35,-.36),(-1.26,-.34),(-1.42,-.44),(-1.33,-.42),(-1.26,-.46),(-1.19,-.45),(-1.26,-.52),(-1.17,-.49),(-1.08,-.52),
    (-1.42,-.58),(-1.37,-.60),(-1.24,-.57),(-1.19,-.60),(-1.35,-.66),(-1.24,-.64),(-1.15,-.68),(-1.35,-.72),(-1.31,-.70),(-1.22,-.74),(-1.10,-.72),
    (-1.37,-.78),(-1.31,-.80),(-1.22,-.76),(-1.15,-.80),(-1.06,-.78),(-1.42,-.84),(-1.31,-.86),(-1.21,-.83),(-1.10,-.86),(-1.02,-.82),(-.93,-.85),(-.86,-.82)]

ring_bottom = [(-1.35,-.90),(-1.19,-.92),(-1.08,-.88),(-.99,-.92),(-.93,-.88),(-.99,-.96),(-.90,-.98),(-.81,-.94),(-.75,-.97),(-1.10,-1.02),(-1.01,-1.00),(-.91,-1.04),
    (-.81,-1.00),(-.71,-1.03),(-.62,-.99),(-.53,-1.05),(-1.19,-1.08),(-1.10,-1.06),(-.99,-1.09),(-.90,-1.07),(-.81,-1.10),(-.73,-1.06),(-.64,-1.10),(-.55,-1.07),
    (-.46,-1.10),(-.37,-1.07),(-.28,-1.11),(-1.37,-1.14),(-1.26,-1.12),(-1.21,-1.16),(-1.10,-1.13),(-.99,-1.16),(-.86,-1.13),(-.77,-1.16),(-.68,-1.12),(-.59,-1.15),
    (-.50,-1.12),(-.41,-1.16),(.29,-1.15),(.38,-1.11),(.47,-1.15),(.56,-1.12),(.65,-1.16),(.69,-1.12),(-1.26,-1.21),(-1.10,-1.18),(-.99,-1.22),(-.91,-1.19),
    (-.79,-1.22),(-.71,-1.18),(-.62,-1.22),(-.55,-1.19),(-.44,-1.21),(-.37,-1.18),(-.30,-1.22),(-.22,-1.19),(-.11,-1.22),(.01,-1.19),(.07,-1.22),(.18,-1.19),
    (.36,-1.22),(.45,-1.18),(.52,-1.21),(.59,-1.19),(.70,-1.21),(-1.22,-1.27),(-1.13,-1.24),(-1.06,-1.28),(-.86,-1.25),(-.79,-1.28),(-.73,-1.24),(-.55,-1.28),
    (-.50,-1.25),(-.44,-1.29),(-.26,-1.25),(-.17,-1.28),(-.06,-1.24),(.05,-1.28),(.29,-1.25),(.36,-1.28),(.49,-1.24),(.59,-1.28),
    (-1.22,-1.33),(-1.13,-1.30),(-1.06,-1.34),(-.81,-1.31),(-.73,-1.35),(-.64,-1.30),(-.57,-1.33),(-.48,-1.30),(-.39,-1.34),(-.30,-1.31),(-.19,-1.34),(-.10,-1.30),
    (.07,-1.33),(.19,-1.30),(.32,-1.34),(.38,-1.31),(.45,-1.34),(.54,-1.30),(.67,-1.33),(.83,-1.30),
    # lower right
    (1.10,-.22),(1.19,-.19),(1.27,-.23),(1.01,-.30),(1.10,-.27),(1.17,-.30),(1.25,-.26),(.90,-.37),(1.05,-.36),(1.10,-.33),(1.19,-.36),(1.27,-.33),(.90,-.45),
    (.98,-.42),(1.05,-.45),(1.14,-.43),(1.25,-.46),(.94,-.52),(1.01,-.49),(1.10,-.52),(1.25,-.50),(.90,-.56),(.98,-.60),(1.05,-.57),(1.21,-.60),(.89,-.64),(.98,-.67),
    (1.07,-.64),(1.14,-.66),(.85,-.73),(.94,-.70),(1.03,-.73),(1.12,-.71),(.76,-.79),(.87,-.76),(.99,-.79),(1.10,-.77),(1.16,-.80),(.78,-.83),(.89,-.86),(.98,-.83),
    (1.14,-.85),(.70,-.95),(.81,-.92),(.90,-.96),(.63,-1.02),(.74,-.99),(.85,-1.03),(.92,-1.00),(.38,-1.04),(.47,-1.02),(.54,-1.05),(.65,-1.08),(.76,-1.06),(.94,-1.09)]

# dots that sit right on the rim of the solid area
core_rim = [(-.88,.72),(-.80,.84),(-.72,.90),(-.66,.96),(-.58,1.00),(-.56,1.10),(-.47,1.12),(-.42,1.16),(-.33,1.18),(-.26,1.22),(-.18,1.24),(-.12,1.18),(-.06,1.28),
    (.04,1.29),(.12,1.24),(.18,1.30),(.30,1.32),(.38,1.26),(.44,1.30),(.56,1.28),(.62,1.20),(.68,1.22),(.78,1.18),(.86,1.12),(.92,1.06),(.98,.96),(1.05,.92),(1.08,.86),
    (1.14,.80),(1.16,.68),(1.12,.58),(1.15,.52),(1.22,.46),(1.27,.40),(1.33,.34),(1.35,.22),(1.33,.12),(1.30,.02),(1.22,-.04),(1.18,-.10),(1.14,-.17),(1.06,-.26),
    (1.00,-.30),(.96,-.36),(.93,-.46),(.92,-.58),(.88,-.66),(.86,-.74),(.80,-.82),(.72,-.92),(.62,-.99),(.52,-1.00),(.42,-1.02),(.30,-1.06),(.25,-1.12),(.18,-1.22),
    (.10,-1.26),(.02,-1.26),(-.07,-1.25),(-.14,-1.17),(-.22,-1.17),(-.32,-1.14),(-.42,-1.07),(-.52,-1.09),(-.62,-1.08),(-.70,-1.00),(-.80,-.97),(-.92,-.96),(-1.02,-.80),
    (-1.12,-.79),(-1.20,-.68),(-1.25,-.58),(-1.28,-.48),(-1.26,-.34),(-1.22,-.28),(-1.24,-.18),(-1.24,-.02),(-1.25,.16),(-1.16,.22),(-1.15,.30),(-1.07,.42),(-.98,.50),
    (-.92,.58),(-.86,.60),
    (1.17,.42),(1.22,.40),(1.30,.36),(1.36,.34),(1.28,.44),(1.38,.40),(1.42,.30),(1.40,.18),(1.30,.26),(1.36,.12),(1.42,.10),(1.40,.02),(1.33,-.10),(1.28,-.13),(1.35,-.14),
    (1.22,-.25),(1.30,-.28),(1.32,-.24),(1.16,-.25),(1.24,-.38),(1.16,-.38),(1.22,-.52),(1.30,-.54),(1.18,-.56),(1.08,-.68),(1.20,-.72),(1.30,-.70),(1.08,-.88),(1.00,-.95),
    (1.05,-.94),(-1.40,.10),(-1.32,.10),(-1.40,-.03),(-1.45,-.10),(-1.40,-.28),(-1.47,-.28),(-1.47,-.36),(-1.33,-.52),(-1.38,-.66),(-1.42,-.72),(-1.15,-.95),(-1.08,-.93),
    (-1.05,-1.10),(-1.30,-1.02),(-.60,1.40),(-.72,1.38),(-.02,1.45),(.20,1.44),(.43,1.44),(.68,1.46)]

# outline of the part where the dots merge into one solid area
core_x = [-.82,-.73,-.59,-.51,-.37,-.26,-.13,-.02,.10,.25,.36,.49,.59,.72,.83,.90,1.01,1.09,1.09,1.19,1.27,1.23,1.12,1.09,1.01,.90,.87,.83,.72,.61,.47,
    .36,.21,.14,-.04,-.11,-.26,-.41,-.59,-.73,-.90,-.99,-1.13,-1.17,-1.22,-1.20,-1.19,-1.19,-1.11,-1.02,-.93]
core_y = [.65,.79,.90,1.02,1.06,1.14,1.10,1.22,1.16,1.24,1.16,1.22,1.12,1.10,1.04,.92,.85,.61,.45,.37,.25,.03,-.07,-.21,-.23,-.33,-.52,-.68,-.84,-.92,-.94,
    -1.00,-1.06,-1.18,-1.20,-1.10,-1.12,-1.02,-1.02,-.92,-.90,-.74,-.72,-.60,-.42,-.27,-.07,.09,.25,.39,.51]

x_ticks = [-2, -1, 0, 1, 2]
y_ticks = [-2, -1, 0, 1, 2, 3]

points = left_upper + left_lower + top + right + right_lower + bottom + ring_top + ring_upper_left + ring_left + ring_bottom + core_rim
xs = [p[0] for p in points]
ys = [p[1] for p in points]

fig = plt.figure(figsize=(18, 18), dpi=100)
ax = fig.add_axes([148 / 1800, 1 - 1648 / 1800, (1777 - 148) / 1800, (1648 - 22) / 1800])

ax.fill(core_x, core_y, facecolor='#A0A0A0', edgecolor='#A0A0A0', linewidth=10, joinstyle='round', zorder=2)
ax.scatter(xs, ys, s=116, color='#A0A0A0', linewidths=0, zorder=3)

ax.set_xlim(-2.93, 2.877)
ax.set_ylim(-2.905, 3.507)
ax.set_xticks(x_ticks)
ax.set_yticks(y_ticks)
ax.tick_params(axis='both', length=8.6, width=2.9, color='#333333', labelcolor='#4D4D4D', labelsize=41, pad=7)
for side in ax.spines.values():
    side.set_visible(False)

ax.set_xlabel('Nicotinamide 1000uM exp101 CRANKS score', fontsize=32.8, color='black', labelpad=7)
ax.set_ylabel('Metformin 40uM exp132 CRANKS score', fontsize=32.8, color='black', labelpad=6)

fig.savefig('out.png', dpi=100, facecolor='white')
